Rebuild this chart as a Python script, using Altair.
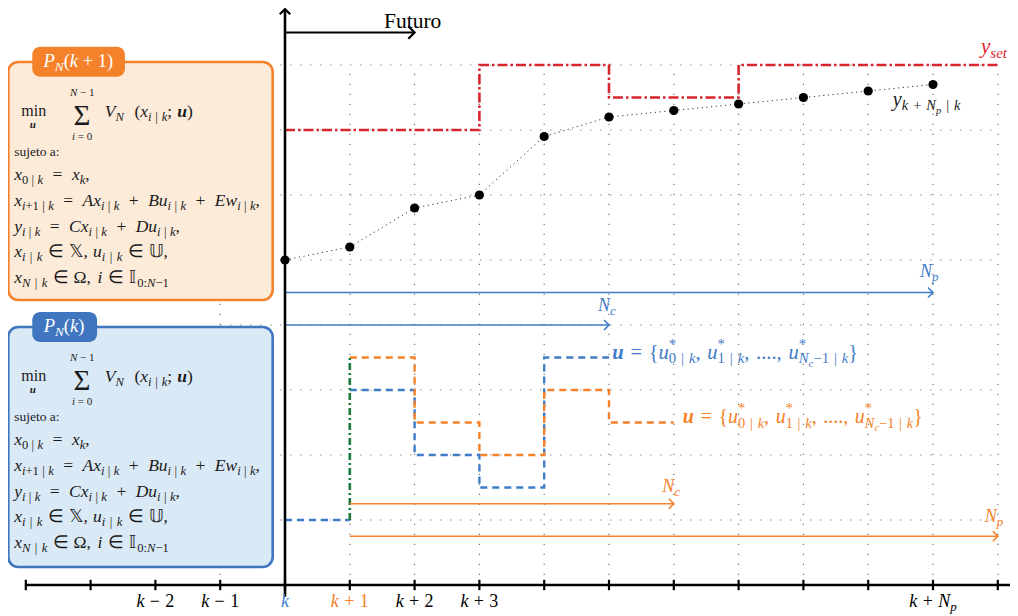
import altair as alt
import pandas as pd

# ---------------- colours ----------------
BLUE = "#3F7CC8"
ORANGE = "#F5822A"
RED = "#D7262E"
GREEN = "#1C7A3A"
BLACK = "#000000"
GRID = "#777777"

# ---------------- data ----------------
steps = list(range(-4, 12))                       # x-axis ticks: k-4 ... k+11
tick_label_x = [-2, -1, 0, 1, 2, 3, 10]
tick_label_txt = ["k − 2", "k − 1", "k", "k + 1", "k + 2", "k + 3", "k + N_<p>"]
tick_label_col = [BLACK, BLACK, BLUE, ORANGE, BLACK, BLACK, BLACK]

grid_vx = [-1, 1, 2, 3, 4, 5, 6, 7, 8, 9, 10, 11]
grid_hy = [1, 2, 3, 4, 5, 6, 7, 8]

pred_x = [0, 1, 2, 3, 4, 5, 6, 7, 8, 9, 10]
pred_y = [5.0, 5.2, 5.8, 6.0, 6.9, 7.2, 7.3, 7.4, 7.5, 7.6, 7.7]

ysp_x = [0, 3, 5, 7, 11]
ysp_y = [7.0, 8.0, 7.5, 8.0, 8.0]

uprev_x = [0, 1]
uprev_y = [1.0, 1.0]
uk_x = [1, 2, 3, 4, 5]
uk_y = [3.0, 2.0, 1.5, 3.5, 3.5]
uk1_x = [1, 2, 3, 4, 5, 6]
uk1_y = [3.5, 2.5, 2.0, 3.0, 2.5, 2.5]

green_x = [1]
green_y0 = [1.0]
green_y1 = [3.5]

arrow_x0 = [0, 0, 1, 1, 0]
arrow_x1 = [10, 5, 6, 11, 2]
arrow_y = [4.5, 4.0, 1.25, 0.75, 8.5]
arrow_col = [BLUE, BLUE, ORANGE, ORANGE, BLACK]
arrow_w = [1.6, 1.6, 1.6, 1.6, 2.2]
arrow_head = [100, 100, 100, 100, 160]

# ---------------- canvas ----------------
W, H = 1002, 608
XMIN, XMAX = -4.2747, 11.1883
YMIN, YMAX = -0.4769, 8.8769
SX = W / (XMAX - XMIN)   # px per x unit
SY = H / (YMAX - YMIN)   # px per y unit

xs = alt.Scale(domain=[XMIN, XMAX], nice=False, zero=False)
ys = alt.Scale(domain=[YMIN, YMAX], nice=False, zero=False)
FONT = "Liberation Serif"

# ---------------- rich text helper ----------------
W_I = dict(a=.5, b=.5, c=.444, d=.5, e=.444, f=.278, g=.5, h=.5, i=.278, j=.278,
           k=.444, l=.278, m=.722, n=.5, o=.5, p=.5, q=.5, r=.389, s=.389, t=.278,
           u=.5, v=.444, w=.667, x=.444, y=.444, z=.389, A=.611, B=.611, C=.667,
           D=.722, E=.611, N=.667, P=.611, V=.611)
W_R = {'0': .5, '1': .5, '2': .5, '3': .5, ' ': .25, '=': .564, '+': .564, '−': .564,
       ',': .25, '.': .25, ':': .278, ';': .278, '|': .2, '(': .333, ')': .333,
       '{': .48, '}': .48, '*': .5, 'Ω': .768, '∈': .8, '𝕏': .8, '𝕌': .8,
       '𝕀': .5, 'Σ': .6, 'm': .778, 'i': .278, 'n': .5, 's': .389, 'u': .5,
       'j': .278, 'e': .444, 't': .278, 'o': .5, 'a': .444, 'F': .556, 'r': .333}
W_B = {'u': .556}


def rich(s, x, y, size, color, align="left", sub=0.72, space=0.25, sup_raise=0.42):
    chars = []
    stack = [dict(fs=size, off=0.0, kind=None, start=0.0, pending=None)]
    cx = 0.0
    roman = False
    bold = False
    sup_start = None
    i = 0
    while i < len(s):
        c = s[i]
        if c in "_^" and s[i + 1:i + 2] == "<":
            top = stack[-1]
            pending = None
            if c == "_" and sup_start is not None:
                pending = cx
                cx = sup_start
            if c == "_":
                ent = dict(fs=top["fs"] * sub, off=top["off"] + top["fs"] * 0.22,
                           kind="_", start=cx, pending=pending)
            else:
                ent = dict(fs=top["fs"] * sub, off=top["off"] - top["fs"] * sup_raise,
                           kind="^", start=cx, pending=None)
            stack.append(ent)
            sup_start = None
            i += 2
            continue
        if c == ">" and len(stack) > 1:
            ent = stack.pop()
            sup_start = ent["start"] if ent["kind"] == "^" else None
            if ent["pending"] is not None:
                cx = max(cx, ent["pending"])
            i += 1
            continue
        sup_start = None
        if c == "#":
            roman = not roman
            i += 1
            continue
        if c == "@":
            bold = True
            i += 1
            continue
        fs, off = stack[-1]["fs"], stack[-1]["off"]
        if c == " ":
            cx += space * fs
            i += 1
            continue
        if bold:
            st, w = "b", W_B.get(c, .55)
        elif c.isascii() and c.isalpha() and not roman:
            st, w = "i", W_I.get(c, .5)
        else:
            st, w = "r", W_R.get(c, .5)
        bold = False
        chars.append([c, st, fs, off, cx, w * fs])
        cx += w * fs
        i += 1
    runs = []
    for c, st, fs, off, px, w in chars:
        if runs and runs[-1][1] == st and runs[-1][2] == fs and runs[-1][3] == off \
                and abs(runs[-1][4] + runs[-1][5] - px) < 1e-6:
            runs[-1][0] += c
            runs[-1][5] += w
        else:
            runs.append([c, st, fs, off, px, w])
    shift = {"left": 0.0, "center": cx / 2, "right": cx}[align]
    rows = []
    for t, st, fs, off, px, w in runs:
        rows.append(dict(text=t, style=st, size=fs, color=color,
                         x=x + (px - shift) / SX, y=y - off / SY))
    return rows


texts = []
# axis tick labels
for tx, tt, tc in zip(tick_label_x, tick_label_txt, tick_label_col):
    texts += rich(tt, tx, -0.34, 18, tc, align="center", space=0.3)

# chart annotations
texts += rich("#Futuro#", 1.97, 8.57, 21.5, BLACK, align="center")
texts += rich("y_<set>", 10.74, 8.18, 21, RED)
texts += rich("y_<k + N_<p> | k>", 9.38, 7.37, 20, "#222222", space=0.35)
texts += rich("N_<p>", 9.80, 4.74, 18, BLUE)
texts += rich("N_<c>", 4.83, 4.22, 18, BLUE)
texts += rich("N_<c>", 5.82, 1.43, 18, ORANGE)
texts += rich("N_<p>", 10.80, 0.97, 18, ORANGE)
ULAB = "@u = {u^<*>_<0 | k>, u^<*>_<1 | k>, ...., u^<*>_<N_<c>−1 | k>}"
texts += rich(ULAB, 5.05, 3.48, 20.5, BLUE, space=0.33, sup_raise=0.5)
texts += rich(ULAB, 6.14, 2.49, 20, ORANGE, space=0.33, sup_raise=0.5)

# optimisation problem boxes
box_names = ["P_<N>(k + 1)", "P_<N>(k)"]
box_tab_cx = [-3.19, -3.41]
box_shift = [0.0, -4.077]
box_lines = ["x_<0 | k>  =  x_<k>,",
             "x_<i+1 | k>  =  Ax_<i | k>  +  Bu_<i | k>  +  Ew_<i | k>,",
             "y_<i | k>  =  Cx_<i | k>  +  Du_<i | k>,",
             "x_<i | k> ∈ 𝕏, u_<i | k> ∈ 𝕌,",
             "x_<N | k> ∈ Ω, i ∈ 𝕀_<0:N−1>"]
box_line_sp = [0.27, 0.27, 0.27, 0.35, 0.35]
box_line_y = [6.23, 5.83, 5.43, 5.046, 4.646]
TXT = "#1a1a1a"
for name, tcx, dy in zip(box_names, box_tab_cx, box_shift):
    texts += rich(name, tcx, 7.97 + dy, 18.5, "#ffffff", align="center")
    texts += rich("#min#", -4.07, 7.22 + dy, 16, TXT)
    texts += rich("@u", -3.89, 7.03 + dy, 11, TXT, align="center")
    texts += rich("Σ", -3.13, 7.07 + dy, 29, TXT, align="center")
    texts += rich("N − 1", -3.13, 7.52 + dy, 11, TXT, align="center")
    texts += rich("i = 0", -3.13, 6.85 + dy, 11, TXT, align="center")
    texts += rich("V_<N>  (x_<i | k>; @u)", -2.78, 7.2 + dy, 17.5, TXT, space=0.3)
    texts += rich("#sujeto a:#", -4.18, 6.6 + dy, 13.5, TXT)
    for ln, ly, sp in zip(box_lines, box_line_y, box_line_sp):
        texts += rich(ln, -4.18, ly + dy, 17.5, TXT, space=sp)

tdf = pd.DataFrame(texts)

box_x0 = [-4.27, -4.27]
box_x1 = [-0.19, -0.19]
box_y0 = [4.385, 0.277]
box_y1 = [8.046, 3.97]
box_fill = ["#FDEBDA", "#DAE9F6"]
box_stroke = [ORANGE, "#3F76BF"]
tab_x0 = [-3.90, -3.90]
tab_x1 = [-2.47, -2.90]
tab_y0 = [7.82, 3.74]
tab_y1 = [8.28, 4.20]

# ---------------- layers ----------------
X = lambda f: alt.X(f, type="quantitative", scale=xs, axis=None)
Y = lambda f: alt.Y(f, type="quantitative", scale=ys, axis=None)

grid_v = alt.Chart(pd.DataFrame({"x": grid_vx, "y0": 0, "y1": 8})).mark_rule(
    color=GRID, strokeWidth=1.2, strokeDash=[1.2, 8.8]).encode(
    x=X("x"), y=Y("y0"), y2="y1")
grid_h = alt.Chart(pd.DataFrame({"y": grid_hy, "x0": -1, "x1": 11})).mark_rule(
    color=GRID, strokeWidth=1.2, strokeDash=[1.2, 8.8]).encode(
    y=Y("y"), x=X("x0"), x2="x1")

boxes = alt.Chart(pd.DataFrame({"x0": box_x0, "x1": box_x1, "y0": box_y0, "y1": box_y1,
                                "fill": box_fill, "stroke": box_stroke})).mark_rect(
    cornerRadius=10, strokeWidth=2.6).encode(
    x=X("x0"), x2="x1", y=Y("y0"), y2="y1",
    fill=alt.Fill("fill:N", scale=None), stroke=alt.Stroke("stroke:N", scale=None))
tabs = alt.Chart(pd.DataFrame({"x0": tab_x0, "x1": tab_x1, "y0": tab_y0, "y1": tab_y1,
                               "fill": box_stroke})).mark_rect(cornerRadius=8).encode(
    x=X("x0"), x2="x1", y=Y("y0"), y2="y1", fill=alt.Fill("fill:N", scale=None))

setpoint = alt.Chart(pd.DataFrame({"x": ysp_x, "y": ysp_y})).mark_line(
    interpolate="step-after", color=RED, strokeWidth=2.6,
    strokeDash=[10, 3, 2.5, 3]).encode(x=X("x"), y=Y("y"))

pred_line = alt.Chart(pd.DataFrame({"x": pred_x, "y": pred_y})).mark_line(
    color="#333333", strokeWidth=1.0, strokeDash=[1.2, 3.5]).encode(x=X("x"), y=Y("y"))
pred_pts = alt.Chart(pd.DataFrame({"x": pred_x, "y": pred_y})).mark_point(
    filled=True, color=BLACK, size=85, opacity=1).encode(x=X("x"), y=Y("y"))

u_prev = alt.Chart(pd.DataFrame({"x": uprev_x, "y": uprev_y})).mark_line(
    color=BLUE, strokeWidth=2.4, strokeDash=[7, 5]).encode(x=X("x"), y=Y("y"))
u_k = alt.Chart(pd.DataFrame({"x": uk_x, "y": uk_y})).mark_line(
    interpolate="step-after", color=BLUE, strokeWidth=2.4,
    strokeDash=[7, 5]).encode(x=X("x"), y=Y("y"))
u_k1 = alt.Chart(pd.DataFrame({"x": uk1_x, "y": uk1_y})).mark_line(
    interpolate="step-after", color=ORANGE, strokeWidth=2.4,
    strokeDash=[7, 5]).encode(x=X("x"), y=Y("y"))
green = alt.Chart(pd.DataFrame({"x": green_x, "y0": green_y0, "y1": green_y1})).mark_rule(
    color=GREEN, strokeWidth=2.6, strokeDash=[7, 3, 2, 3]).encode(
    x=X("x"), y=Y("y0"), y2="y1")

adf = pd.DataFrame({"x0": arrow_x0, "x1": arrow_x1, "y": arrow_y, "c": arrow_col,
                    "w": arrow_w, "s": arrow_head})
arrows = alt.Chart(adf).mark_rule().encode(
    x=X("x0"), x2="x1", y=Y("y"), color=alt.Color("c:N", scale=None),
    strokeWidth=alt.StrokeWidth("w:Q", scale=None))
heads = alt.Chart(adf).mark_point(shape="M-1,-1L0,0L-1,1", filled=False, opacity=1).encode(
    x=X("x1"), y=Y("y"), color=alt.Color("c:N", scale=None),
    size=alt.Size("s:Q", scale=None), strokeWidth=alt.StrokeWidth("w:Q", scale=None))

x_axis = alt.Chart(pd.DataFrame({"x0": [steps[0]], "y": [0]})).mark_rule(
    color=BLACK, strokeWidth=2.6).encode(x=X("x0"), x2=alt.value(W), y=Y("y"))
x_ticks = alt.Chart(pd.DataFrame({"x": steps, "y0": -0.08, "y1": 0.08})).mark_rule(
    color=BLACK, strokeWidth=2.2).encode(x=X("x"), y=Y("y0"), y2="y1")
y_axis = alt.Chart(pd.DataFrame({"x": [0], "y0": [-0.18], "y1": [8.86]})).mark_rule(
    color=BLACK, strokeWidth=2.6).encode(x=X("x"), y=Y("y0"), y2="y1")
y_head = alt.Chart(pd.DataFrame({"x": [0], "y": [8.86]})).mark_point(
    shape="M-1,1L0,0L1,1", filled=False, color=BLACK, size=110, strokeWidth=2.2,
    opacity=1).encode(x=X("x"), y=Y("y"))


def text_layer(style):
    sub = tdf[tdf["style"] == style]
    kw = dict(font=FONT, align="left", baseline="alphabetic")
    if style == "i":
        kw["fontStyle"] = "italic"
    elif style == "b":
        kw["fontStyle"] = "italic"
        kw["fontWeight"] = "bold"
    return alt.Chart(sub).mark_text(**kw).encode(
        x=X("x"), y=Y("y"), text="text:N",
        size=alt.Size("size:Q", scale=None), color=alt.Color("color:N", scale=None))


chart = alt.layer(
    grid_v, grid_h, boxes, tabs, setpoint, pred_line, pred_pts,
    u_prev, u_k, u_k1, green, arrows, heads, x_axis, x_ticks, y_axis, y_head,
    text_layer("r"), text_layer("i"), text_layer("b")
).properties(width=W, height=H, padding=0, autosize="none").configure_view(strokeWidth=0)

chart.save("out.html", embed_options={"renderer": "svg", "actions": False})
